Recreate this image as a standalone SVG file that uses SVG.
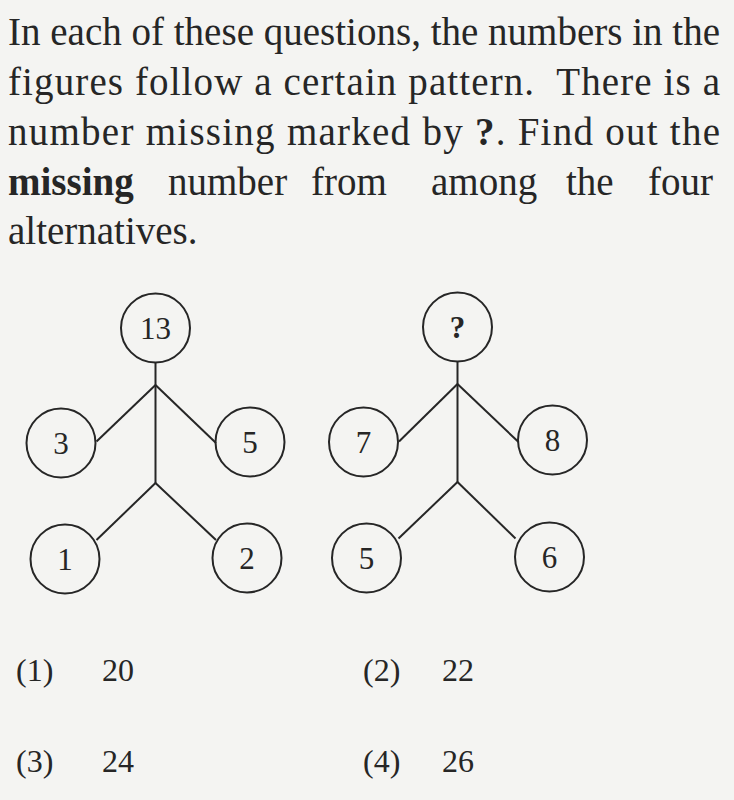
<svg xmlns="http://www.w3.org/2000/svg" width="734" height="800" viewBox="0 0 734 800">
<style>
.t{font-family:"Liberation Serif","Times New Roman",serif;font-size:39px;fill:#262626}
.b{font-weight:bold}
.n{font-family:"Liberation Serif","Times New Roman",serif;font-size:31px;fill:#262626;text-anchor:middle}
.o{font-family:"Liberation Serif","Times New Roman",serif;font-size:32px;fill:#262626}
circle{fill:none;stroke:#262626;stroke-width:2}
.c line{stroke:#262626;stroke-width:2}
</style>
<rect width="734" height="800" fill="#f4f4f2"/>
<g id="question">
<text class="t" x="8" y="45" textLength="712" lengthAdjust="spacing">In each of these questions, the numbers in the</text>
<text class="t" x="8" y="95" textLength="712" lengthAdjust="spacing" xml:space="preserve">figures follow a certain pattern.  There is a</text>
<text class="t" x="8" y="145" textLength="712" lengthAdjust="spacing">number missing marked by <tspan class="b">?</tspan>. Find out the</text>
<text class="t" y="195"><tspan class="b" x="8">missing</tspan><tspan x="168">number</tspan><tspan x="311">from</tspan><tspan x="431">among</tspan><tspan x="566">the</tspan><tspan x="648">four</tspan></text>
<text class="t" x="8" y="244">alternatives.</text>
</g>
<g class="c" id="connectors">
<line x1="155.5" y1="362" x2="155.5" y2="483"/>
<line x1="155.5" y1="385" x2="96.5" y2="441.5"/>
<line x1="155.5" y1="385" x2="216" y2="443"/>
<line x1="155.5" y1="483" x2="96.5" y2="540"/>
<line x1="155.5" y1="483" x2="216" y2="540"/>
<line x1="457.5" y1="361" x2="457.5" y2="482"/>
<line x1="457.5" y1="384" x2="399" y2="441.5"/>
<line x1="457.5" y1="384" x2="518.5" y2="442"/>
<line x1="457.5" y1="482" x2="398.5" y2="538.5"/>
<line x1="457.5" y1="482" x2="515.5" y2="538.5"/>
</g>
<g id="n13"><circle cx="155.5" cy="328" r="34.5"/><text class="n" x="155.5" y="339">13</text></g>
<g id="n3"><circle cx="61" cy="443" r="34.5"/><text class="n" x="61" y="454">3</text></g>
<g id="n5a"><circle cx="250" cy="442" r="34.5"/><text class="n" x="250" y="453">5</text></g>
<g id="n1"><circle cx="65" cy="559" r="34.5"/><text class="n" x="65" y="570">1</text></g>
<g id="n2"><circle cx="247" cy="558" r="34.5"/><text class="n" x="247" y="569">2</text></g>
<g id="nq"><circle cx="457.5" cy="327" r="34.5"/><text class="n b" x="457.5" y="338">?</text></g>
<g id="n7"><circle cx="363.5" cy="442" r="34.5"/><text class="n" x="363.5" y="453">7</text></g>
<g id="n8"><circle cx="552.5" cy="440" r="34.5"/><text class="n" x="552.5" y="451">8</text></g>
<g id="n5b"><circle cx="366.5" cy="558" r="34.5"/><text class="n" x="366.5" y="569">5</text></g>
<g id="n6"><circle cx="549.5" cy="557" r="34.5"/><text class="n" x="549.5" y="568">6</text></g>
<g id="options">
<text class="o" x="16" y="681">(1)</text><text class="o" x="102" y="681">20</text>
<text class="o" x="363" y="681">(2)</text><text class="o" x="442" y="681">22</text>
<text class="o" x="16" y="772">(3)</text><text class="o" x="102" y="772">24</text>
<text class="o" x="363" y="772">(4)</text><text class="o" x="442" y="772">26</text>
</g>
</svg>
